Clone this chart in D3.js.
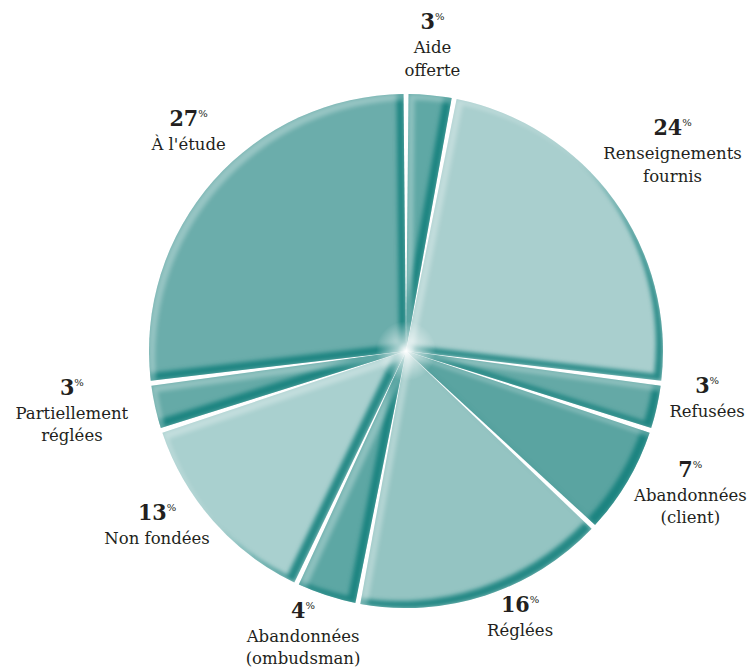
<!DOCTYPE html>
<html lang="fr">
<head>
<meta charset="utf-8">
<script src="https://cdn.jsdelivr.net/npm/d3@7"></script>
<style>
  html, body { margin: 0; padding: 0; background: #ffffff; }
  svg { display: block; }
  .num { font-family: "DejaVu Serif Condensed", "DejaVu Serif", serif; font-weight: bold; font-size: 23px; fill: #231f20; }
  .pct { font-family: "DejaVu Serif", serif; font-weight: normal; font-size: 10px; }
  .lbl { font-family: "DejaVu Serif", serif; font-size: 16.5px; fill: #231f20; }
</style>
</head>
<body>
<svg id="chart" width="754" height="669"></svg>
<script>
// Répartition des dossiers (%), dans le sens horaire à partir de midi
const categories = [
  "Aide offerte", "Renseignements fournis", "Refusées", "Abandonnées (client)",
  "Réglées", "Abandonnées (ombudsman)", "Non fondées", "Partiellement réglées", "À l'étude"
];
const labelLines = [
  ["Aide", "offerte"], ["Renseignements", "fournis"], ["Refusées"], ["Abandonnées", "(client)"],
  ["Réglées"], ["Abandonnées", "(ombudsman)"], ["Non fondées"], ["Partiellement", "réglées"], ["À l'étude"]
];
const values = [3, 24, 3, 7, 16, 4, 13, 3, 27];
const sliceColors = [
  "#5fa8a5", "#a9cfce", "#64a9a6", "#5aa4a1", "#94c4c2", "#5da7a4", "#a9d0cf", "#65aaa7", "#6badab"
];

// Label placement: angular shift (degrees) from the slice middle and distance from centre
const labelAngleShift = [-0.7, -3.0, -4.7, -6.7, -5.6, 3.1, 7.2, 5.1, 4.6];
const labelRadius     = [323, 343, 304, 311, 285, 286, 301, 337, 313];

const width = 754, height = 669;
const cx = 406, cy = 351, R = 257;

const svg = d3.select("#chart");
const defs = svg.append("defs");

// Bevel: dark teal rim on edges facing lower right, soft light rim on edges facing upper left
const f = defs.append("filter").attr("id", "bevel")
  .attr("x", "-5%").attr("y", "-5%").attr("width", "110%").attr("height", "110%")
  .attr("color-interpolation-filters", "sRGB");
f.append("feOffset").attr("in", "SourceAlpha").attr("dx", -7).attr("dy", -7).attr("result", "sh");
f.append("feComposite").attr("in", "SourceAlpha").attr("in2", "sh").attr("operator", "out").attr("result", "shRim");
f.append("feGaussianBlur").attr("in", "shRim").attr("stdDeviation", 2.2).attr("result", "shBlur");
f.append("feFlood").attr("flood-color", "#117e7a").attr("flood-opacity", 0.85).attr("result", "shCol");
f.append("feComposite").attr("in", "shCol").attr("in2", "shBlur").attr("operator", "in").attr("result", "shPaint");
f.append("feComposite").attr("in", "shPaint").attr("in2", "SourceAlpha").attr("operator", "in").attr("result", "shadow");
f.append("feOffset").attr("in", "SourceAlpha").attr("dx", 6).attr("dy", 6).attr("result", "hl");
f.append("feComposite").attr("in", "SourceAlpha").attr("in2", "hl").attr("operator", "out").attr("result", "hlRim");
f.append("feGaussianBlur").attr("in", "hlRim").attr("stdDeviation", 2).attr("result", "hlBlur");
f.append("feFlood").attr("flood-color", "#ffffff").attr("flood-opacity", 0.3).attr("result", "hlCol");
f.append("feComposite").attr("in", "hlCol").attr("in2", "hlBlur").attr("operator", "in").attr("result", "hlPaint");
f.append("feComposite").attr("in", "hlPaint").attr("in2", "SourceAlpha").attr("operator", "in").attr("result", "highlight");
const merge = f.append("feMerge");
merge.append("feMergeNode").attr("in", "SourceGraphic");
merge.append("feMergeNode").attr("in", "shadow");
merge.append("feMergeNode").attr("in", "highlight");

// White glow where the slices meet
const glow = defs.append("radialGradient").attr("id", "glow");
glow.append("stop").attr("offset", "0%").attr("stop-color", "#fff").attr("stop-opacity", 1);
glow.append("stop").attr("offset", "30%").attr("stop-color", "#fff").attr("stop-opacity", 0.6);
glow.append("stop").attr("offset", "100%").attr("stop-color", "#fff").attr("stop-opacity", 0);

const pie = d3.pie().sort(null).value(d => d).startAngle(0).endAngle(2 * Math.PI);
const arcs = pie(values);

const gap = 5;
const arc = d3.arc().innerRadius(0).outerRadius(R).padRadius(R).padAngle(gap / R);

const g = svg.append("g").attr("transform", `translate(${cx},${cy})`);

g.selectAll("path.slice")
  .data(arcs)
  .join("path")
  .attr("class", "slice")
  .attr("d", arc)
  .attr("fill", (d, i) => sliceColors[i])
  .attr("filter", "url(#bevel)");

g.append("circle").attr("r", 30).attr("fill", "url(#glow)");

// Labels: bold percentage with a small superscript %, then the category on one or two lines
const labels = svg.append("g");
arcs.forEach((a, i) => {
  const mid = (a.startAngle + a.endAngle) / 2 + labelAngleShift[i] * Math.PI / 180;
  const x = cx + labelRadius[i] * Math.sin(mid);
  const y = cy - labelRadius[i] * Math.cos(mid);
  const t = labels.append("text").attr("class", "num")
    .attr("x", x).attr("y", y).attr("text-anchor", "middle");
  t.append("tspan").text(values[i]);
  t.append("tspan").attr("class", "pct").attr("dy", -9).text("%");
  labelLines[i].forEach((line, k) => {
    labels.append("text").attr("class", "lbl")
      .attr("x", x).attr("y", y + 24 + k * 22.5)
      .attr("text-anchor", "middle")
      .text(line);
  });
});
</script>
</body>
</html>
